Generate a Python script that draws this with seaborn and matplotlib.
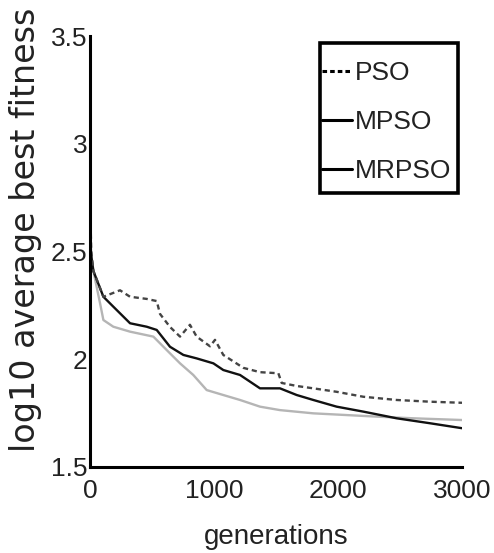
import matplotlib
matplotlib.use("Agg")
import matplotlib.pyplot as plt
import seaborn as sns
import pandas as pd
from matplotlib.lines import Line2D
from matplotlib.patches import Rectangle

# ---- data ----
pso_x = [0, 10, 27, 108, 242, 323, 457, 538, 565, 645, 726, 806, 860, 968, 1008,
         1075, 1156, 1237, 1371, 1519, 1546, 1667, 1801, 1989, 2204, 2473, 2742, 3000]
pso_y = [2.75, 2.50, 2.41, 2.29, 2.32, 2.29, 2.28, 2.27, 2.21, 2.15, 2.105, 2.16, 2.105,
         2.06, 2.09, 2.02, 1.99, 1.96, 1.94, 1.935, 1.89, 1.876, 1.865, 1.849, 1.826,
         1.811, 1.803, 1.798]

mpso_x = [0, 10, 27, 108, 188, 323, 457, 538, 645, 753, 860, 995, 1075, 1210, 1371,
          1532, 1667, 1801, 1989, 2204, 2473, 2742, 3000]
mpso_y = [2.55, 2.48, 2.41, 2.29, 2.244, 2.167, 2.151, 2.136, 2.058, 2.02, 2.004, 1.981,
          1.95, 1.927, 1.865, 1.865, 1.834, 1.811, 1.78, 1.757, 1.726, 1.703, 1.68]

mrpso_x = [0, 10, 27, 81, 108, 188, 323, 511, 618, 726, 833, 941, 1075, 1210, 1371,
           1532, 1801, 2070, 2339, 2608, 3000]
mrpso_y = [2.62, 2.49, 2.41, 2.26, 2.182, 2.151, 2.128, 2.105, 2.043, 1.981, 1.927,
           1.857, 1.834, 1.811, 1.78, 1.764, 1.749, 1.741, 1.733, 1.726, 1.718]

series_names = ["PSO", "MPSO", "MRPSO"]
x_ticks = [0, 1000, 2000, 3000]
x_tick_labels = ["0", "1000", "2000", "3000"]
y_ticks = [1.5, 2.0, 2.5, 3.0, 3.5]
y_tick_labels = ["1.5", "2", "2.5", "3", "3.5"]

# ---- style ----
sns.set_style("white")
plt.rcParams["font.family"] = ["Liberation Sans", "DejaVu Sans"]

W, H = 494, 553
fig = plt.figure(figsize=(W / 100, H / 100), dpi=100)
ax = fig.add_axes([90 / W, 1 - 467 / H, 372 / W, 431 / H])

df_pso = pd.DataFrame({"x": pso_x, "y": pso_y})
df_mpso = pd.DataFrame({"x": mpso_x, "y": mpso_y})
df_mrpso = pd.DataFrame({"x": mrpso_x, "y": mrpso_y})

sns.lineplot(data=df_mrpso, x="x", y="y", ax=ax, color="#b5b5b5", linewidth=1.7)
sns.lineplot(data=df_mpso, x="x", y="y", ax=ax, color="#111111", linewidth=1.7)
sns.lineplot(data=df_pso, x="x", y="y", ax=ax, color="#444444", linewidth=1.7)
ax.lines[-1].set_dashes((2.2, 1.6))

ax.set_xlim(0, 3000)
ax.set_ylim(1.5, 3.5)
ax.set_xticks(x_ticks)
ax.set_xticklabels(x_tick_labels)
ax.set_yticks(y_ticks)
ax.set_yticklabels(y_tick_labels)

for side in ["top", "right"]:
    ax.spines[side].set_visible(False)
for side in ["left", "bottom"]:
    ax.spines[side].set_linewidth(2.2)
    ax.spines[side].set_color("black")

ax.tick_params(axis="both", direction="in", length=5, width=2, colors="black",
               labelsize=19, labelcolor="#222222")
ax.tick_params(axis="x", pad=9)
ax.tick_params(axis="y", pad=2)

ax.set_xlabel("generations", fontsize=20, color="#222222", labelpad=15)
ax.set_ylabel("log10 average best fitness", fontsize=24, color="#222222",
              family=["DejaVu Sans"])
ax.yaxis.set_label_coords(-0.128, 0.55)

# legend frame (thick black box)
fig.patches.append(Rectangle((320 / W, 1 - 193 / H), 138 / W, 150 / H,
                             transform=fig.transFigure, facecolor="white",
                             edgecolor="black", linewidth=2.6, zorder=3))

handles = [
    Line2D([], [], color="black", linewidth=2.2, dashes=(1.5, 1.0)),
    Line2D([], [], color="black", linewidth=2.2),
    Line2D([], [], color="black", linewidth=2.2),
]
leg = fig.legend(handles, series_names, loc="upper left",
                 bbox_to_anchor=(322 / W, 1 - 61 / H), bbox_transform=fig.transFigure,
                 fontsize=19, frameon=False, handlelength=1.15, handletextpad=0.08,
                 borderpad=0.0, labelspacing=0.95, borderaxespad=0)
leg.set_zorder(4)
for t in leg.get_texts():
    t.set_color("#222222")

fig.savefig("out.png", dpi=100, facecolor="white")
